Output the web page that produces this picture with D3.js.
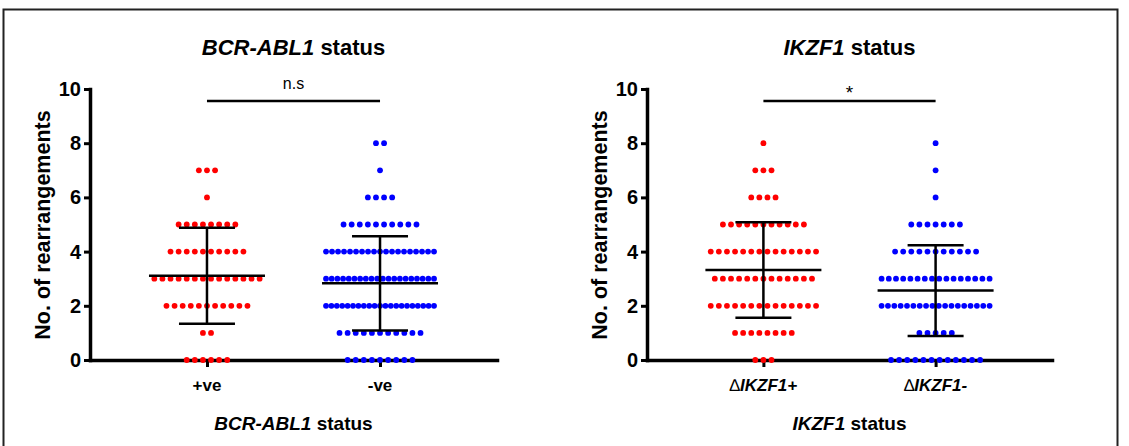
<!DOCTYPE html>
<html>
<head>
<meta charset="utf-8">
<script src="https://cdn.jsdelivr.net/npm/d3@7"></script>
<style>
  body { margin: 0; background: #fff; }
  text { font-family: "Liberation Sans", Arial, sans-serif; }
</style>
</head>
<body>
<svg id="chart" width="1129" height="446"></svg>
<script>
// Values. Index of each counts array = no. of rearrangements (0..8)
var rearrangements = [0, 1, 2, 3, 4, 5, 6, 7, 8];
var bcrGroups = ['+ve', '-ve'];
var ikzfGroups = ['dIKZF1+', 'dIKZF1-'];
var countsBcrPos = [6, 2, 11, 14, 10, 8, 1, 3, 0];
var countsBcrNeg = [9, 11, 21, 20, 19, 10, 4, 1, 2];
var countsIkzfPos = [3, 8, 14, 13, 14, 11, 4, 3, 1];
var countsIkzfNeg = [12, 5, 18, 16, 11, 7, 1, 1, 1];
// mean and SD as drawn in the figure
var meansBcr = [3.11, 2.83];
var sdBcr = [1.77, 1.74];
var meansIkzf = [3.32, 2.56];
var sdIkzf = [1.76, 1.67];
var yTicks = [0, 2, 4, 6, 8, 10];
var sigLabels = ['n.s', '*'];

var svg = d3.select('#chart');

// frame round the figure
svg.append('rect')
  .attr('x', 3.5).attr('y', 9.5)
  .attr('width', 1114).attr('height', 450)
  .attr('fill', 'none').attr('stroke', '#222').attr('stroke-width', 2);

// expand counts into single points, laid out in rows like a scatter dot plot
var toPoints = function (counts, group) {
  let pts = [];
  counts.forEach((n, k) => {
    let step = n > 1 ? Math.min(8.1, 108 / (n - 1)) : 0;
    for (let i = 0; i < n; i++) {
      pts.push({group: group, value: rearrangements[k], dx: (i - (n - 1) / 2) * step});
    }
  });
  return pts;
};

var drawPanel = function (cfg) {
  let g = svg.append('g');
  let y = d3.scaleLinear().domain([0, 10]).range([360, 89]);
  let x = d3.scalePoint().domain(cfg.groups).range([cfg.x0, cfg.x1]).padding(0.676);

  // y axis
  let yAxis = g.append('g')
    .attr('transform', `translate(${cfg.x0},0)`)
    .call(d3.axisLeft(y).tickValues(yTicks).tickSize(6).tickSizeOuter(0).tickPadding(3));
  yAxis.selectAll('text')
    .style('font-size', '20px').style('font-weight', 'bold').attr('fill', '#000');

  // x axis
  let xAxis = g.append('g')
    .attr('transform', 'translate(0,360)')
    .call(d3.axisBottom(x).tickSize(7).tickSizeOuter(0).tickFormat(''));

  [yAxis, xAxis].forEach((a) => {
    a.select('.domain').attr('stroke', '#000').attr('stroke-width', 3.5).attr('stroke-linecap', 'square');
    a.selectAll('.tick line').attr('stroke', '#000').attr('stroke-width', 3);
  });

  // dots
  let points = cfg.counts.flatMap((c, i) => toPoints(c, cfg.groups[i]));
  g.append('g').selectAll('circle')
    .data(points)
    .join('circle')
    .attr('cx', d => x(d.group) + d.dx)
    .attr('cy', d => y(d.value))
    .attr('r', 2.9)
    .attr('fill', d => cfg.groups.indexOf(d.group) === 0 ? '#ff0000' : '#0000ff');

  // mean and SD bars
  let bars = g.append('g').attr('stroke', '#000').attr('stroke-width', 2.5);
  cfg.groups.forEach((grp, i) => {
    let cx = x(grp), m = cfg.means[i], s = cfg.sds[i];
    bars.append('line').attr('x1', cx).attr('x2', cx).attr('y1', y(m + s)).attr('y2', y(m - s));
    bars.append('line').attr('x1', cx - 58).attr('x2', cx + 58).attr('y1', y(m)).attr('y2', y(m));
    [m + s, m - s].forEach((v) => {
      bars.append('line').attr('x1', cx - 28).attr('x2', cx + 28).attr('y1', y(v)).attr('y2', y(v));
    });
  });

  // significance bar
  let sx0 = x(cfg.groups[0]), sx1 = x(cfg.groups[1]);
  g.append('line')
    .attr('x1', sx0).attr('x2', sx1).attr('y1', 101).attr('y2', 101)
    .attr('stroke', '#000').attr('stroke-width', 2.5);
  g.append('text')
    .attr('x', (sx0 + sx1) / 2).attr('y', cfg.sigY)
    .attr('text-anchor', 'middle')
    .style('font-size', cfg.sigSize)
    .text(cfg.sig);

  // tick labels under the x axis
  cfg.groups.forEach((grp, i) => {
    let t = g.append('text')
      .attr('x', x(grp)).attr('y', 391)
      .attr('text-anchor', 'middle')
      .style('font-size', '17px').style('font-weight', 'bold');
    cfg.tickParts[i].forEach((p) => {
      t.append('tspan').style('font-style', p[1] ? 'italic' : 'normal')
        .style('font-weight', p[2] ? 'normal' : 'bold').text(p[0]);
    });
  });

  // y axis title
  g.append('text')
    .attr('transform', `translate(${cfg.yLabelX},225) rotate(-90)`)
    .attr('text-anchor', 'middle')
    .style('font-size', '21.5px').style('font-weight', 'bold')
    .text('No. of rearrangements');

  let mid = (cfg.x0 + cfg.x1) / 2;
  // top title and x axis title
  [[55, '22px'], [430, '19px']].forEach(([ty, size]) => {
    let t = g.append('text')
      .attr('x', mid).attr('y', ty)
      .attr('text-anchor', 'middle')
      .style('font-size', size).style('font-weight', 'bold');
    t.append('tspan').style('font-style', 'italic').text(cfg.gene);
    t.append('tspan').text(' status');
  });
};

drawPanel({
  groups: bcrGroups, counts: [countsBcrPos, countsBcrNeg],
  means: meansBcr, sds: sdBcr,
  x0: 90, x1: 497, yLabelX: 50,
  sig: sigLabels[0], sigY: 89, sigSize: '16px',
  gene: 'BCR-ABL1',
  tickParts: [[['+ve', false]], [['-ve', false]]]
});

drawPanel({
  groups: ikzfGroups, counts: [countsIkzfPos, countsIkzfNeg],
  means: meansIkzf, sds: sdIkzf,
  x0: 647, x1: 1052, yLabelX: 607,
  sig: sigLabels[1], sigY: 99, sigSize: '19px',
  gene: 'IKZF1',
  tickParts: [[['\u2206', false, true], ['IKZF1+', true]], [['\u2206', false, true], ['IKZF1-', true]]]
});
</script>
</body>
</html>
